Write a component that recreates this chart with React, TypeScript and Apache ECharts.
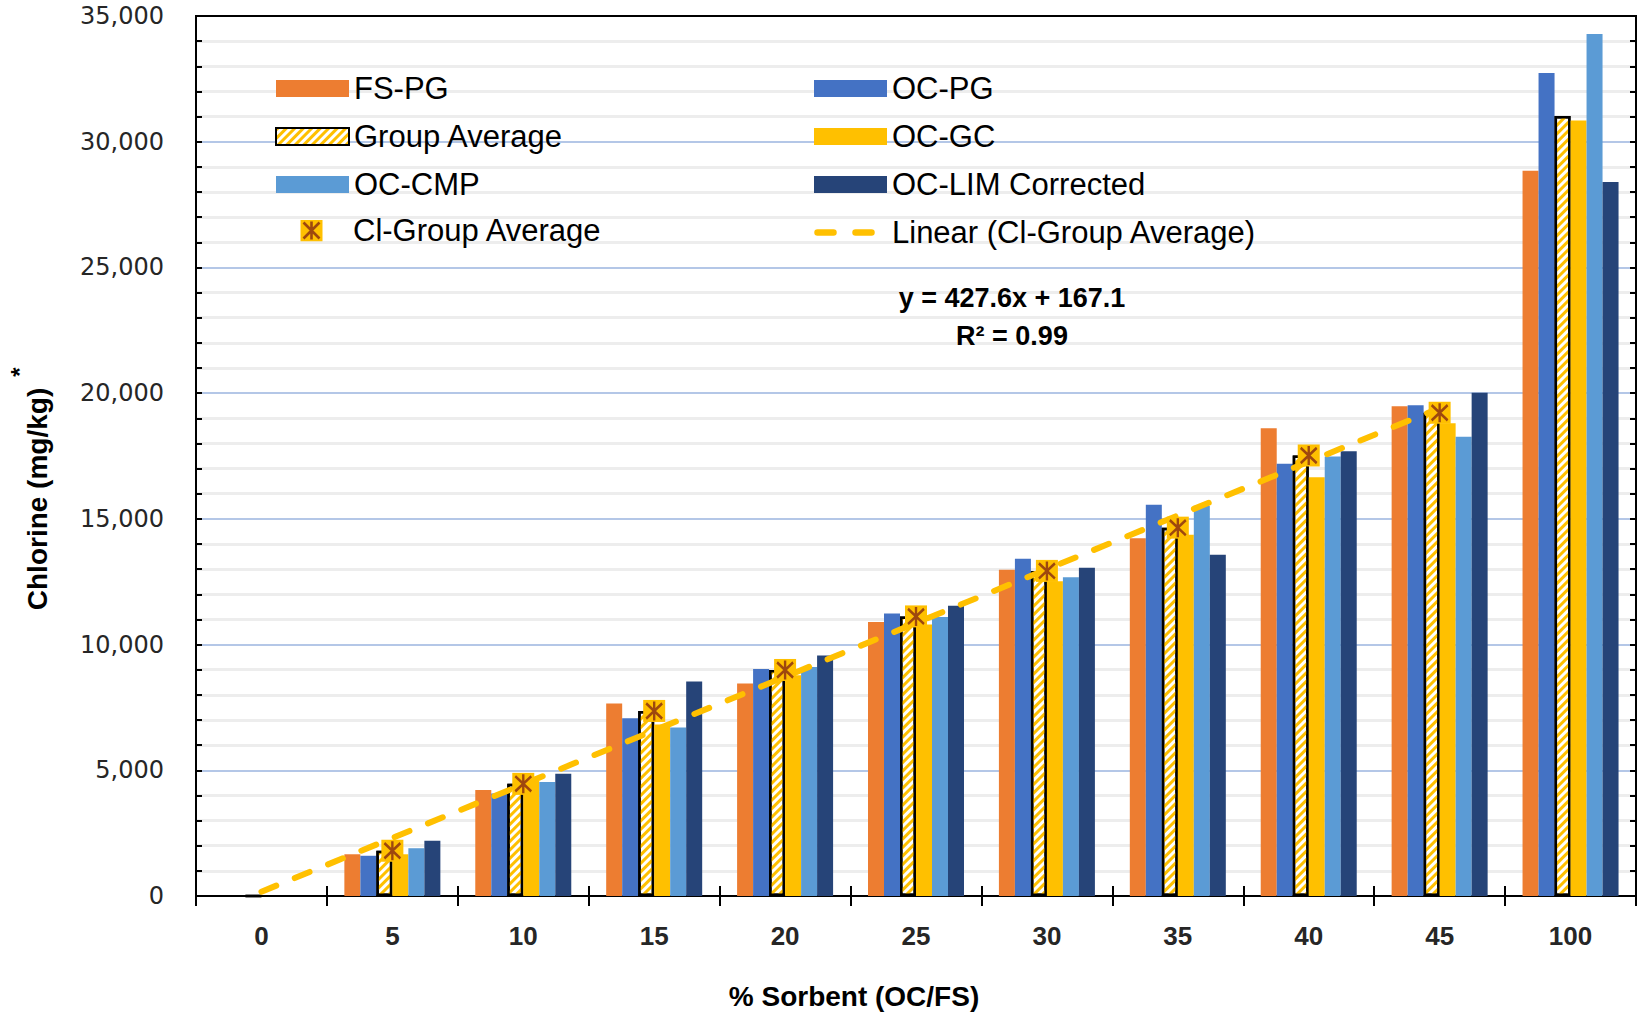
import React, { useEffect, useRef } from 'react';
import * as echarts from 'echarts';

const categories = ['0', '5', '10', '15', '20', '25', '30', '35', '40', '45', '100'];
const fsPG = [0, 1660, 4220, 7660, 8450, 10900, 12980, 14230, 18600, 19480, 28850];
const ocPG = [0, 1600, 4080, 7070, 9030, 11240, 13410, 15560, 17190, 19520, 32730];
const groupAvg = [0, 1800, 4460, 7360, 8990, 11120, 12930, 14650, 17520, 19220, 31020];
const ocGC = [0, 1660, 4600, 6820, 8780, 10800, 12520, 14370, 16650, 18800, 30840];
const ocCMP = [0, 1900, 4530, 6700, 9110, 11100, 12680, 15520, 17480, 18270, 34280];
const ocLIM = [0, 2200, 4860, 8530, 9570, 11540, 13060, 13570, 17690, 20020, 28400];
const clGroupAvg = [null, 1800, 4460, 7360, 8990, 11120, 12930, 14650, 17520, 19220, null];
const linearFit = [170, null, null, null, null, null, null, null, null, 19410, null];
const yTicks = { min: 0, max: 35000, interval: 5000 };
const equationLines = ['y = 427.6x + 167.1', 'R² = 0.99'];

const C_ORANGE = '#ED7D31';
const C_BLUE = '#4472C4';
const C_GOLD = '#FFC000';
const C_LBLUE = '#5B9BD5';
const C_NAVY = '#264478';
const C_BROWN = '#9E480E';

const svgIcon = (s: string) => 'image://data:image/svg+xml;charset=utf-8,' + encodeURIComponent(s);
const markerIcon = svgIcon(
  "<svg xmlns='http://www.w3.org/2000/svg' width='73' height='22' viewBox='0 0 73 22'>" +
    "<rect x='25.5' y='0' width='22' height='22' fill='#FFC000'/>" +
    "<path d='M36.5 2V20M28.5 3L44.5 19M44.5 3L28.5 19' stroke='#9E480E' stroke-width='2.6' fill='none'/>" +
    '</svg>'
);
const dashIcon = svgIcon(
  "<svg xmlns='http://www.w3.org/2000/svg' width='73' height='17' viewBox='0 0 73 17'>" +
    "<path d='M3.5 8.5H19.5M41.5 8.5H57.5' stroke='#FFC000' stroke-width='6.5' stroke-linecap='round' fill='none'/>" +
    '</svg>'
);

const FONT = 'Liberation Sans, Arial, sans-serif';

export default function App() {
  const ref = useRef<HTMLDivElement>(null);
  useEffect(() => {
    document.body.style.margin = '0';
    const chart = echarts.init(ref.current!, null, { renderer: 'svg' });
    const hatch = {
      symbol: 'rect',
      symbolSize: 1,
      color: C_GOLD,
      backgroundColor: '#FFFFFF',
      dashArrayX: [1, 0],
      dashArrayY: [3, 3],
      rotation: -Math.PI / 4,
    };
    const barBase = { type: 'bar', barWidth: 16, barGap: '0%', z: 2 };
    const legendText = { fontFamily: FONT, fontSize: 31, color: '#000', lineHeight: 30 };
    const boxAxis = {
      axisLine: { show: true, lineStyle: { color: '#000', width: 2 } },
      axisTick: { show: true, inside: true, length: 6, lineStyle: { color: '#000', width: 2 } },
      minorTick: { show: true, splitNumber: 5, length: 6, lineStyle: { color: '#000', width: 2 } },
    };
    const option: any = {
      animation: false,
      backgroundColor: '#fff',
      grid: { left: 196, right: 3, top: 16, bottom: 119, show: true, borderColor: '#000', borderWidth: 2 },
      legend: [
        {
          orient: 'vertical', left: 275, top: 73, padding: 0, itemGap: 17, itemWidth: 73, itemHeight: 17,
          selectedMode: false, textStyle: legendText,
          data: [
            { name: 'FS-PG', icon: 'rect' },
            { name: 'Group Average', icon: 'rect' },
            { name: 'OC-CMP', icon: 'rect' },
          ],
        },
        {
          orient: 'vertical', left: 275, top: 215, padding: 0, itemWidth: 73, itemHeight: 22,
          selectedMode: false, textStyle: legendText,
          data: [{ name: 'Cl-Group Average', icon: markerIcon }],
        },
        {
          orient: 'vertical', left: 814, top: 73, padding: 0, itemGap: 17, itemWidth: 73, itemHeight: 17,
          selectedMode: false, textStyle: legendText,
          data: [
            { name: 'OC-PG', icon: 'rect' },
            { name: 'OC-GC', icon: 'rect' },
            { name: 'OC-LIM Corrected', icon: 'rect' },
            { name: 'Linear (Cl-Group Average)', icon: dashIcon },
          ],
        },
      ],
      xAxis: [
        {
          type: 'category', data: categories, boundaryGap: true,
          axisLine: { show: true, lineStyle: { color: '#000', width: 2 } },
          axisTick: { show: true, alignWithLabel: false, length: 10, lineStyle: { color: '#000', width: 2 } },
          axisLabel: { fontFamily: FONT, fontWeight: 'bold', fontSize: 26, color: '#262626', margin: 27 },
          splitLine: { show: false },
        },
        {
          type: 'category', data: categories, position: 'bottom', boundaryGap: true,
          axisLine: { show: false },
          axisTick: { show: true, inside: true, alignWithLabel: false, length: 10, lineStyle: { color: '#000', width: 2 } },
          axisLabel: { show: false },
          splitLine: { show: false },
        },
        {
          type: 'category', data: categories, position: 'top', boundaryGap: true,
          axisLine: { show: true, lineStyle: { color: '#000', width: 2 } },
          axisTick: { show: false },
          axisLabel: { show: false },
          splitLine: { show: false },
        },
      ],
      yAxis: [
        {
          type: 'value', ...yTicks, ...boxAxis,
          axisLabel: {
            fontFamily: 'DejaVu Sans', fontSize: 24, color: '#262626', margin: 32,
            formatter: (v: number) => v.toLocaleString('en-US'),
          },
          splitLine: { show: true, lineStyle: { color: '#B4C7E7', width: 2 } },
          minorSplitLine: { show: true, lineStyle: { color: '#EDEDED', width: 3 } },
        },
        {
          type: 'value', position: 'right', ...yTicks, ...boxAxis,
          axisLabel: { show: false },
          splitLine: { show: false },
          minorSplitLine: { show: false },
        },
      ],
      series: [
        { ...barBase, name: 'FS-PG', data: fsPG, itemStyle: { color: C_ORANGE } },
        { ...barBase, name: 'OC-PG', data: ocPG, itemStyle: { color: C_BLUE } },
        {
          ...barBase, name: 'Group Average', data: groupAvg,
          itemStyle: { color: '#FFFFFF', borderColor: '#000', borderWidth: 2.5, decal: hatch },
        },
        { ...barBase, name: 'OC-GC', data: ocGC, itemStyle: { color: C_GOLD } },
        { ...barBase, name: 'OC-CMP', data: ocCMP, itemStyle: { color: C_LBLUE } },
        { ...barBase, name: 'OC-LIM Corrected', data: ocLIM, itemStyle: { color: C_NAVY } },
        {
          type: 'line', name: 'Linear (Cl-Group Average)', data: linearFit, connectNulls: true,
          symbol: 'none', showSymbol: false, z: 3,
          lineStyle: { color: C_GOLD, width: 6, type: [16, 20], cap: 'round' },
          itemStyle: { color: C_GOLD },
        },
        {
          type: 'scatter', name: 'Cl-Group Average', data: clGroupAvg, symbol: 'rect', symbolSize: 22, z: 4,
          itemStyle: { color: C_GOLD, opacity: 1 },
        },
        {
          type: 'scatter', name: 'Cl-Group Average star', data: clGroupAvg,
          symbol: 'path://M10 0L10 20M2 2L18 18M18 2L2 18', symbolSize: [16, 19], symbolKeepAspect: false, z: 5,
          itemStyle: { color: 'none', borderColor: C_BROWN, borderWidth: 2.6, opacity: 1 },
        },
      ],
      graphic: [
        {
          type: 'text', x: 37, y: 499, rotation: Math.PI / 2, z: 100,
          style: {
            text: 'Chlorine (mg/kg)', font: `bold 28px ${FONT}`, fill: '#000',
            align: 'center', verticalAlign: 'middle',
          },
        },
        {
          type: 'text', x: 19, y: 372, rotation: Math.PI / 2, z: 100,
          style: { text: '*', font: `bold 24px ${FONT}`, fill: '#000', align: 'center', verticalAlign: 'middle' },
        },
        {
          type: 'text', x: 854, y: 996, z: 100,
          style: { text: '% Sorbent (OC/FS)', font: `bold 28px ${FONT}`, fill: '#000', align: 'center', verticalAlign: 'middle' },
        },
        {
          type: 'text', x: 1012, y: 298, z: 100,
          style: { text: equationLines[0], font: `bold 27px ${FONT}`, fill: '#000', align: 'center', verticalAlign: 'middle' },
        },
        {
          type: 'text', x: 1012, y: 336, z: 100,
          style: { text: equationLines[1], font: `bold 27px ${FONT}`, fill: '#000', align: 'center', verticalAlign: 'middle' },
        },
      ],
    };
    chart.setOption(option);
    return () => chart.dispose();
  }, []);
  return <div ref={ref} style={{ width: 1639, height: 1015 }} />;
}
